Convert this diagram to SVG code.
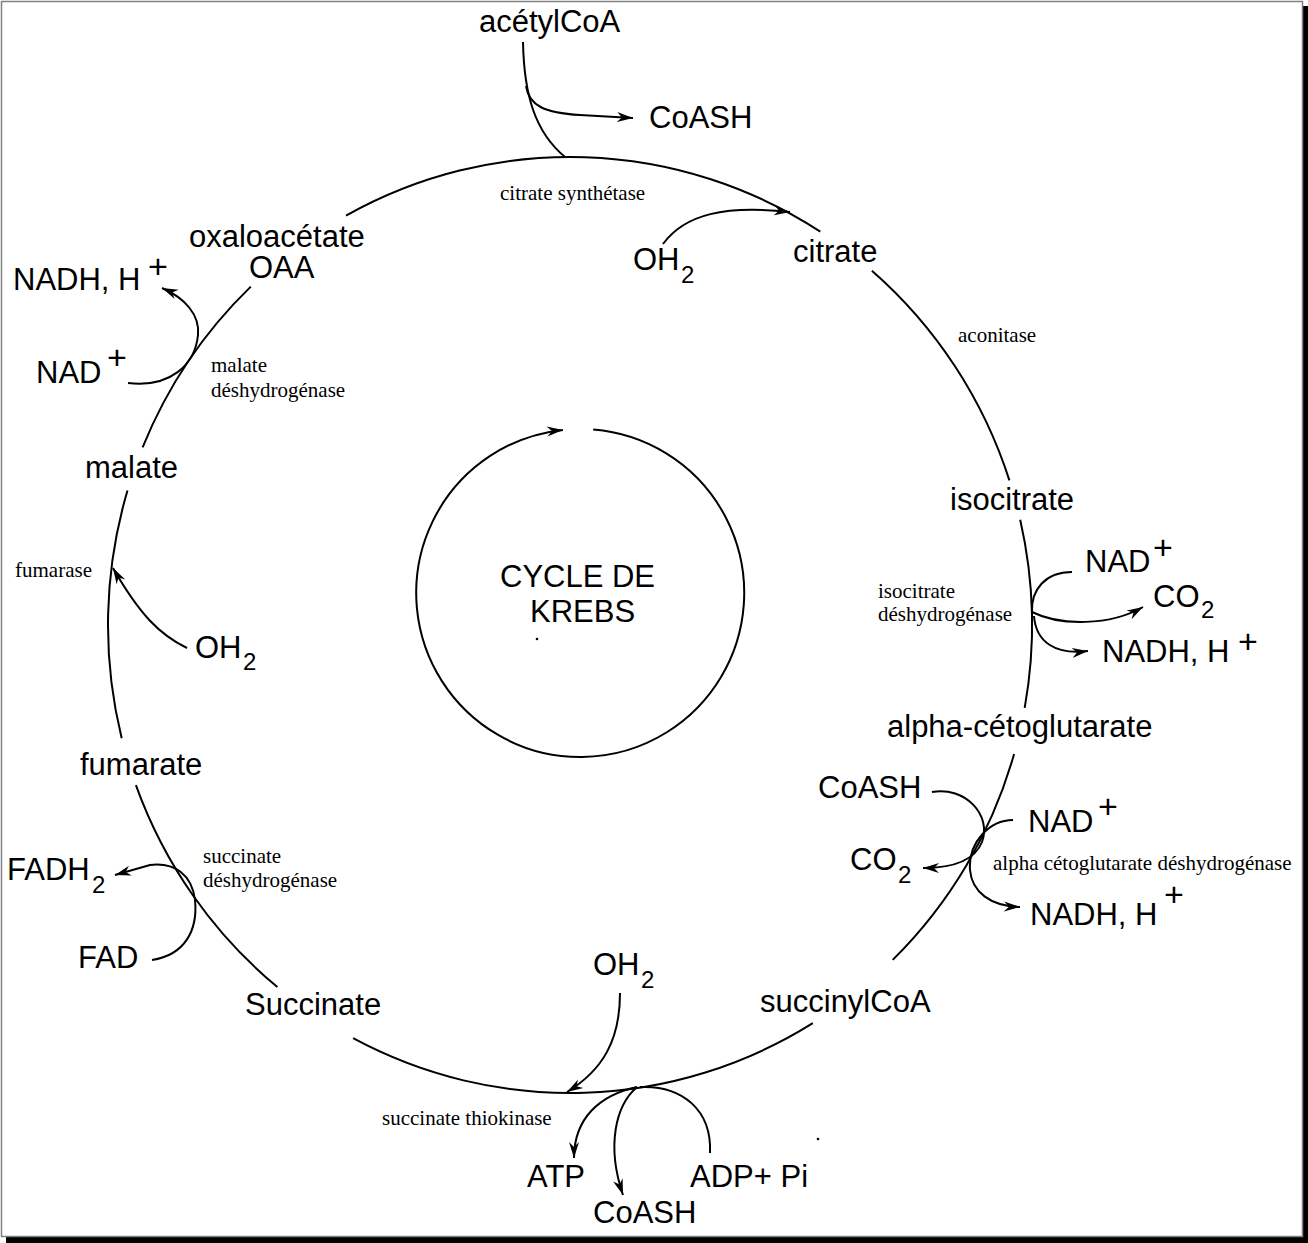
<svg xmlns="http://www.w3.org/2000/svg" width="1308" height="1243" viewBox="0 0 1308 1243">
<defs>
<marker id="ah" markerWidth="18" markerHeight="12" refX="16" refY="6" orient="auto" markerUnits="userSpaceOnUse"><path d="M0,1 L16,6 L0,11 L5,6 z" fill="#000"/></marker>
<style>
.s{font-family:"Liberation Sans",Arial,sans-serif;font-size:31px;fill:#000}
.sub{font-family:"Liberation Sans",Arial,sans-serif;font-size:24px;fill:#000}
.pl{font-family:"Liberation Sans",Arial,sans-serif;font-size:34px;fill:#000}
.e{font-family:"Liberation Serif","Times New Roman",serif;font-size:21px;fill:#000}
.ln{fill:none;stroke:#000;stroke-width:2}
.ar{fill:none;stroke:#000;stroke-width:2;marker-end:url(#ah)}
</style>
</defs>
<rect x="0" y="0" width="1308" height="1243" fill="#fff"/>
<rect x="1303" y="6" width="5" height="1237" fill="#000"/>
<rect x="6" y="1237" width="1302" height="6" fill="#000"/>
<rect x="1.5" y="1.5" width="1301" height="1235" fill="none" stroke="#808080" stroke-width="1.5"/>

<g id="cycle">
<path class="ln" d="M346,215.7 A462,468 0 0 1 820.3,231.6"/>
<path class="ln" d="M871.9,270.7 A462,468 0 0 1 1009.4,480.4"/>
<path class="ln" d="M1020.2,519.7 A462,468 0 0 1 1024.7,707.9"/>
<path class="ln" d="M1014.1,754 A462,468 0 0 1 892.7,959.9"/>
<path class="ln" d="M812.8,1023.2 A462,468 0 0 1 353.1,1038.2"/>
<path class="ln" d="M277.4,987.1 A462,468 0 0 1 135.9,785.1"/>
<path class="ln" d="M121.7,738.2 A462,468 0 0 1 127.5,490.5"/>
<path class="ln" d="M142.6,447.4 A462,468 0 0 1 250.8,286.6"/>
</g>

<g id="connectors">
<path class="ln" d="M523,42 C524,95 535,132 565,157"/>
<path class="ar" d="M526,86 C529,106 545,113 580,115 L633,118"/>
<path class="ar" d="M663,244 C685,214 725,205 790,212"/>
<path class="ln" d="M1072,572 C1045,572 1031,590 1032,612"/>
<path class="ar" d="M1032,612 C1060,626 1110,626 1143,607"/>
<path class="ar" d="M1034,616 C1036,642 1055,655 1088,651"/>
<path class="ar" d="M932,792 C965,786 992,815 982,842 C974,862 950,868 923,868"/>
<path class="ar" d="M1013,820 C990,820 968,842 970,870 C972,892 990,906 1020,907"/>
<path class="ar" d="M620,993 C620,1040 603,1070 567,1092"/>
<path class="ar" d="M637,1087 C600,1095 574,1118 574,1158"/>
<path class="ar" d="M637,1087 C616,1105 606,1145 623,1195"/>
<path class="ln" d="M710,1153 C712,1110 682,1085 640,1087"/>
<path class="ar" d="M152,960 C185,955 198,930 195,900 C192,875 175,862 150,865 L115,875"/>
<path class="ar" d="M187,648 C160,635 140,615 113,568"/>
<path class="ar" d="M128,383 C170,388 195,365 198,335 C200,315 185,298 162,288"/>
<path class="ar" d="M593.2,429.5 A164,164 0 1 1 562.9,429.9"/>
</g>

<g id="acetylcoa"><text class="s" x="479" y="32">acétylCoA</text></g>
<g id="coash-top"><text class="s" x="649" y="128">CoASH</text></g>
<g id="enz-citrate-synthetase"><text class="e" x="500" y="200">citrate synthétase</text></g>
<g id="oh2-top"><text class="s" x="633" y="270">OH</text><text class="sub" x="681" y="283">2</text></g>
<g id="citrate"><text class="s" x="793" y="262">citrate</text></g>
<g id="enz-aconitase"><text class="e" x="958" y="342">aconitase</text></g>
<g id="isocitrate"><text class="s" x="950" y="510">isocitrate</text></g>
<g id="nad-iso"><text class="s" x="1085" y="572">NAD</text><text class="pl" x="1153" y="559">+</text></g>
<g id="co2-iso"><text class="s" x="1153" y="607">CO</text><text class="sub" x="1201" y="618">2</text></g>
<g id="nadh-iso"><text class="s" x="1102" y="662">NADH, H</text><text class="pl" x="1238" y="653">+</text></g>
<g id="enz-idh"><text class="e" x="878" y="598">isocitrate</text><text class="e" x="878" y="621">déshydrogénase</text></g>
<g id="alpha-ketoglutarate"><text class="s" x="887" y="737">alpha-cétoglutarate</text></g>
<g id="coash-akg"><text class="s" x="818" y="798">CoASH</text></g>
<g id="nad-akg"><text class="s" x="1028" y="832">NAD</text><text class="pl" x="1098" y="818">+</text></g>
<g id="co2-akg"><text class="s" x="850" y="870">CO</text><text class="sub" x="898" y="883">2</text></g>
<g id="enz-akgdh"><text class="e" x="993" y="870">alpha cétoglutarate déshydrogénase</text></g>
<g id="nadh-akg"><text class="s" x="1030" y="925">NADH, H</text><text class="pl" x="1164" y="906">+</text></g>
<g id="succinylcoa"><text class="s" x="760" y="1012">succinylCoA</text></g>
<g id="oh2-bottom"><text class="s" x="593" y="975">OH</text><text class="sub" x="641" y="988">2</text></g>
<g id="enz-thiokinase"><text class="e" x="382" y="1125">succinate thiokinase</text></g>
<g id="atp"><text class="s" x="527" y="1187">ATP</text></g>
<g id="coash-bottom"><text class="s" x="593" y="1223">CoASH</text></g>
<g id="adp"><text class="s" x="690" y="1187">ADP+ Pi</text></g>
<g id="dot1"><circle cx="818" cy="1139" r="1.3" fill="#000"/></g>
<g id="succinate"><text class="s" x="245" y="1015">Succinate</text></g>
<g id="fad"><text class="s" x="78" y="968">FAD</text></g>
<g id="fadh2"><text class="s" x="7" y="880">FADH</text><text class="sub" x="92" y="893">2</text></g>
<g id="enz-sdh"><text class="e" x="203" y="863">succinate</text><text class="e" x="203" y="887">déshydrogénase</text></g>
<g id="fumarate"><text class="s" x="80" y="775">fumarate</text></g>
<g id="oh2-left"><text class="s" x="195" y="658">OH</text><text class="sub" x="243" y="670">2</text></g>
<g id="enz-fumarase"><text class="e" x="15" y="577">fumarase</text></g>
<g id="malate"><text class="s" x="85" y="478">malate</text></g>
<g id="enz-mdh"><text class="e" x="211" y="372">malate</text><text class="e" x="211" y="397">déshydrogénase</text></g>
<g id="nad-mdh"><text class="s" x="36" y="383">NAD</text><text class="pl" x="107" y="369">+</text></g>
<g id="nadh-mdh"><text class="s" x="13" y="290">NADH, H</text><text class="pl" x="148" y="278">+</text></g>
<g id="oaa"><text class="s" x="189" y="247">oxaloacétate</text><text class="s" x="249" y="278">OAA</text></g>
<g id="center"><text class="s" x="500" y="587">CYCLE DE</text><text class="s" x="530" y="622">KREBS</text><circle cx="537" cy="639" r="1.3" fill="#000"/></g>
</svg>
